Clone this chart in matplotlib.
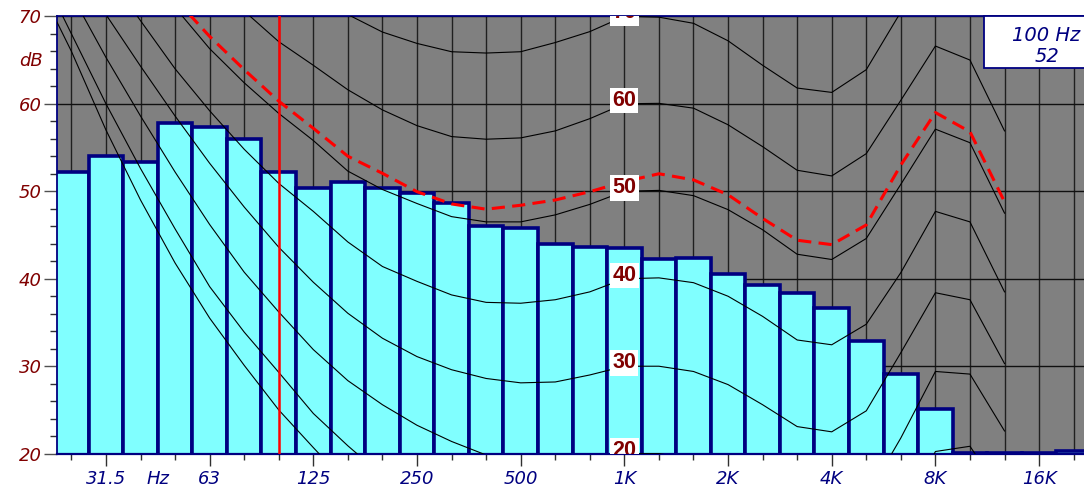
import numpy as np
import matplotlib
matplotlib.use("Agg")
import matplotlib.pyplot as plt
from matplotlib.patches import Rectangle
from matplotlib.ticker import MultipleLocator
import matplotlib.transforms as mtransforms

# ---------------- data ----------------
band_labels = ['25', '31.5', '40', '50', '63', '80', '100', '125', '160', '200',
               '250', '315', '400', '500', '630', '800', '1K', '1.25K', '1.6K', '2K',
               '2.5K', '3.15K', '4K', '5K', '6.3K', '8K', '10K', '12.5K', '16K', '20K']
band_levels = [52.25, 54.07, 53.4, 57.84, 57.4, 55.94, 52.17, 50.34, 51.1, 50.34,
               49.77, 48.63, 46.07, 45.77, 43.98, 43.67, 43.49, 42.26, 42.41, 40.55,
               39.33, 38.41, 36.63, 32.89, 29.08, 25.08, 20.1, 20.1, 20.1, 20.35]

# equal-loudness contours, 20 Hz ... 12.5 kHz
contour_freqs = ['20', '25', '31.5', '40', '50', '63', '80', '100', '125', '160', '200',
                 '250', '315', '400', '500', '630', '800', '1K', '1.25K', '1.6K', '2K',
                 '2.5K', '3.15K', '4K', '5K', '6.3K', '8K', '10K', '12.5K']
phon_0 = [74.0, 66.0, 57.0, 49.0, 41.8, 35.5, 30.1, 25.0, 20.7, 16.5, 13.0, 10.0, 7.5, 5.0,
          3.5, 2.5, 1.5, 0.0, 0.0, -0.5, -2.0, -4.5, -7.0, -7.5, -5.0, 2.0, 11.0, 11.5, 5.5]
phon_10 = [76.0, 68.0, 60.0, 52.6, 45.7, 39.1, 33.9, 29.3, 24.6, 20.9, 17.5, 14.5, 12.0, 10.0,
           8.8, 8.5, 9.0, 10.0, 10.0, 9.5, 8.0, 5.8, 3.5, 3.0, 6.0, 12.5, 20.25, 20.85, 15.0]
phon_20 = [80.5, 72.5, 65.3, 58.6, 52.2, 46.2, 40.75, 36.2, 31.9, 28.35, 25.6, 23.25, 21.4, 19.85,
           19.0, 18.8, 19.2, 20.0, 20.0, 19.4, 17.9, 15.6, 13.1, 12.6, 15.0, 21.8, 29.4, 29.1, 22.6]
phon_30 = [82.0, 76.0, 70.2, 64.3, 58.6, 53.2, 48.2, 43.6, 39.6, 36.05, 33.2, 31.1, 29.6, 28.6,
           28.1, 28.2, 29.0, 30.0, 30.0, 29.4, 27.9, 25.6, 23.1, 22.5, 24.9, 31.55, 38.4, 37.6, 30.3]
phon_40 = [86.0, 80.0, 75.0, 69.5, 64.0, 59.2, 54.8, 50.9, 47.7, 44.2, 41.4, 39.7, 38.15, 37.3,
           37.2, 37.6, 38.5, 40.0, 40.1, 39.55, 38.0, 35.7, 33.0, 32.45, 34.8, 40.7, 47.7, 46.5, 38.5]
phon_50 = [91.0, 86.0, 81.0, 76.0, 71.0, 66.3, 62.4, 58.9, 55.8, 52.3, 50.2, 48.6, 47.1, 46.5,
           46.5, 47.3, 48.5, 50.0, 50.1, 49.5, 47.9, 45.6, 42.8, 42.2, 44.6, 50.8, 57.1, 55.55, 47.5]
phon_60 = [99.0, 94.0, 89.0, 84.0, 79.0, 74.5, 70.6, 67.1, 64.4, 61.6, 59.3, 57.5, 56.25, 55.95,
           56.1, 56.9, 58.3, 60.0, 60.05, 59.5, 57.6, 55.1, 52.4, 51.75, 54.3, 60.4, 66.6, 65.0, 56.9]
phon_70 = [108.0, 103.0, 98.0, 93.0, 88.0, 83.5, 79.5, 76.0, 73.0, 70.2, 68.2, 66.9, 65.95, 65.8,
           65.95, 67.0, 68.25, 70.0, 69.9, 69.2, 67.2, 64.4, 61.8, 61.3, 63.9, 70.5, 76.2, 74.6, 66.3]
contours = {0: phon_0, 10: phon_10, 20: phon_20, 30: phon_30, 40: phon_40,
            50: phon_50, 60: phon_60, 70: phon_70}
label_phons = [20, 30, 40, 50, 60, 70]

# loudness-level curve (red dashed)
loudness_curve = [93.0, 87.5, 82.0, 77.0, 72.0, 67.7, 63.9, 60.3, 57.2, 54.0, 52.05, 49.95,
                  48.55, 47.95, 48.4, 49.0, 49.95, 51.1, 52.0, 51.3, 49.6, 46.9, 44.4, 43.9,
                  46.15, 53.0, 59.0, 56.8, 48.8]

octave_labels = ['31.5', '63', '125', '250', '500', '1K', '2K', '4K', '8K', '16K']
y_ticks = [20, 30, 40, 50, 60, 70]
selected_band = '100'
selected_text = '100 Hz\n52'

# ---------------- figure ----------------
W, H = 1084, 493
plt.rcParams['font.family'] = ['DejaVu Sans']
plt.rcParams['font.style'] = 'italic'
fig = plt.figure(figsize=(W / 100, H / 100), dpi=100)
fig.patch.set_facecolor('white')
ax_l, ax_r, ax_t, ax_b = 56.7, 1084.0, 16.3, 453.7
ax = fig.add_axes([ax_l / W, 1 - ax_b / H, (ax_r - ax_l) / W, (ax_b - ax_t) / H])
ax.set_facecolor('#808080')

bx = np.arange(len(band_labels))
cx = np.array([band_labels.index(f) if f in band_labels else -1 for f in contour_freqs], dtype=float)

# bars
ax.bar(bx, np.array(band_levels), bottom=0, width=1.0, color='#80FFFF',
       edgecolor='#000080', linewidth=2.6, zorder=2)

# contours
for p, vals in contours.items():
    ax.plot(cx, vals, color='black', lw=0.8, zorder=3)

# red dashed loudness curve
ax.plot(cx, loudness_curve, color='#FF0000', lw=2.2, dashes=(4.3, 2.4), zorder=4)

# red marker line
sel = band_labels.index(selected_band)
ax.axvline(sel, color='#FF0000', lw=1.8, zorder=5)

# contour labels at 1 kHz
k1 = band_labels.index('1K')
for p in label_phons:
    ax.text(k1, p - 0.25, str(p), ha='center', va='baseline', fontsize=15.5,
            fontweight='bold', fontstyle='normal', family='Liberation Sans',
            color='#800000', zorder=6, clip_on=True,
            bbox=dict(facecolor='white', edgecolor='none', boxstyle='square,pad=0.1'))

# limits
ax.set_xlim((ax_l - 71.4) / 34.56, (ax_r - 71.4) / 34.56)
ax.set_ylim(20, 70)

# grid
ax.set_axisbelow(True)
ax.grid(True, which='both', axis='x', color='#202020', lw=1.0)
ax.grid(True, which='major', axis='y', color='#101010', lw=1.0)

# x ticks
maj = [band_labels.index(l) for l in octave_labels]
ax.set_xticks(maj)
ax.set_xticklabels(octave_labels, fontstyle='italic')
ax.set_xticks([i for i in bx if i not in maj], minor=True)
ax.tick_params(axis='x', which='major', length=8.4, width=1.0, color='#303030',
               direction='out', pad=3.2, labelsize=13, labelcolor='#000080')
ax.tick_params(axis='x', which='minor', length=4.1, width=1.0, color='#303030',
               direction='out')
ax.annotate('Hz', xy=(2.5, 0), xycoords=('data', 'axes fraction'),
            xytext=(0, -(8.4 + 3.2)), textcoords='offset points', ha='center', va='top',
            fontsize=13, fontstyle='italic', color='#000080')

# y ticks
ax.set_yticks(y_ticks)
ax.set_yticklabels([str(v) for v in y_ticks], fontstyle='italic')
ax.yaxis.set_minor_locator(MultipleLocator(2))
ax.tick_params(axis='y', which='major', length=9.4, width=1.0, color='#505050',
               direction='out', pad=1.4, labelsize=13, labelcolor='#800000')
ax.tick_params(axis='y', which='minor', length=5.0, width=1.0, color='#303030',
               direction='out')
trans = mtransforms.blended_transform_factory(ax.transAxes, ax.transData)
ax.text(-13.4 / (ax_r - ax_l), 64.85, 'dB', transform=trans, ha='right', va='center',
        fontsize=13, fontstyle='italic', color='#800000')

# spines
for s in ['left', 'top']:
    ax.spines[s].set_color('#000080')
    ax.spines[s].set_linewidth(1.3)
ax.spines['bottom'].set_color('#000080')
ax.spines['bottom'].set_linewidth(1.6)
ax.spines['right'].set_visible(False)

# info box
bx0 = (984 - 71.4) / 34.56
by0 = 70 - (68.3 - ax_t) / 8.75
ax.add_patch(Rectangle((bx0, by0), 6.0, 70 - by0, facecolor='white', edgecolor='#000080',
                       lw=1.3, zorder=7, clip_on=False))
tx = (1046.5 - 71.4) / 34.56
line1, line2 = selected_text.split('\n')
ax.text(tx, 67.21, line1, ha='center', va='baseline', fontsize=14, fontstyle='italic',
        color='#000080', zorder=8, clip_on=False)
ax.text(tx, 64.81, line2, ha='center', va='baseline', fontsize=14, fontstyle='italic',
        color='#000080', zorder=8, clip_on=False)

fig.savefig('out.png', dpi=100)
